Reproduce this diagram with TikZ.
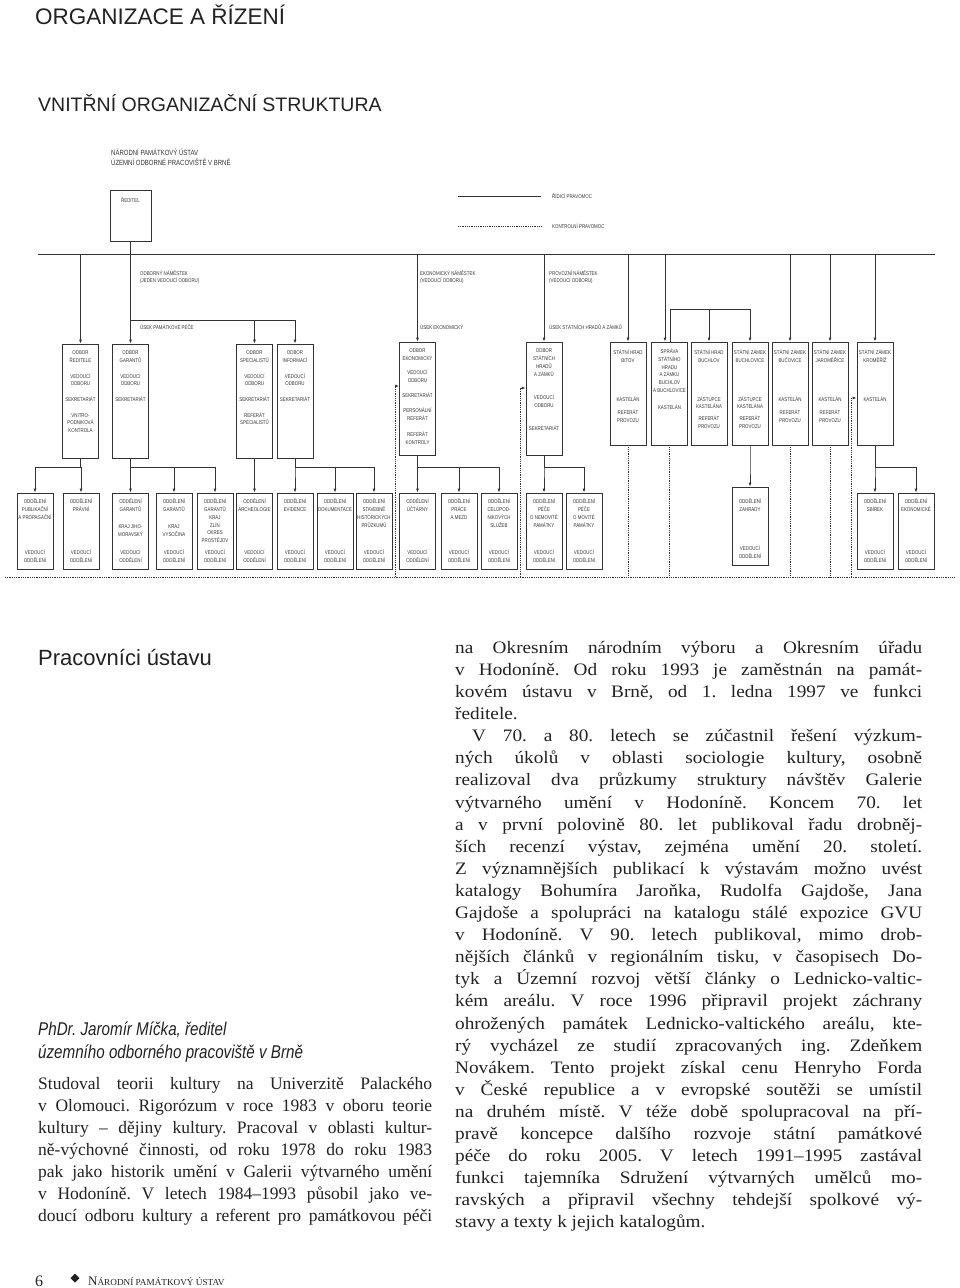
\documentclass[tikz,border=0pt]{standalone}
\usepackage{fontspec}
\setmainfont{Liberation Serif}
\setsansfont{Liberation Sans}
\newfontfamily\chartfont[FakeStretch=0.8]{Liberation Sans}
\newfontfamily\condfont[FakeStretch=0.82]{Liberation Sans}
\newfontfamily\widefont[FakeStretch=1.1]{Liberation Serif}
\usetikzlibrary{arrows.meta}
\definecolor{ink}{HTML}{333333}
\definecolor{textink}{HTML}{222222}
\newcommand\lcol[1]{\makebox[394pt][s]{#1}}
\newcommand\rcol[1]{\makebox[467pt][s]{#1}}
\frenchspacing

\begin{document}
\begin{tikzpicture}[
    x=1pt, y=-1pt,
    >={Latex[length=4pt,width=3pt]},
    chart/.style={font=\chartfont\fontsize{5.5}{7.8}\selectfont, text=ink, inner sep=0pt},
    tag/.style={chart, align=center},
    box/.style={draw=ink, line width=0.8pt, inner sep=0pt, minimum width=36pt},
    topbox/.style={box, minimum height=114pt},
    midbox/.style={box, minimum height=113pt},
    castle/.style={box, minimum height=103pt},
    dept/.style={box, minimum height=76pt,
                 label={[tag, anchor=south, yshift=7pt]south:{VEDOUCÍ\\ODDĚLENÍ}}},
    link/.style={draw=ink, line width=0.8pt},
    arr/.style={link, ->},
    ctrl/.style={draw=ink, line width=0.8pt, densely dotted},
    ctrlarr/.style={ctrl, ->},
    pagetitle/.style={font=\sffamily, text=textink, inner sep=0pt},
    bodytxt/.style={font=\fontsize{17.5}{22.1}\selectfont, text=textink,
                    align=left, inner sep=0pt},
    authortxt/.style={font=\condfont\itshape\fontsize{18.5}{23}\selectfont,
                      text=textink, align=left, inner sep=0pt},
]
\useasboundingbox (0,0) rectangle (960,1288);

% =====================================================================
% page headings
% =====================================================================
\node[pagetitle, font=\sffamily\fontsize{22.5}{27}\selectfont, anchor=base west]
    (head) at (35,24) {ORGANIZACE A ŘÍZENÍ};
\node[pagetitle, font=\sffamily\fontsize{19.5}{24}\selectfont, anchor=base west]
    (subhead) at (38,111) {VNITŘNÍ ORGANIZAČNÍ STRUKTURA};

% =====================================================================
% org chart
% =====================================================================
\coordinate (busL) at (38,254);
\coordinate (busR) at (935,254);
\coordinate (bus)  at (0,254);
\coordinate (spr)  at (0,309);
\coordinate (usek) at (0,320);
\coordinate (br)   at (0,467);
\coordinate (dotL) at (5,577);
\coordinate (dotR) at (955,577);

\node[chart, font=\chartfont\fontsize{7.5}{10}\selectfont, anchor=north west, align=left]
    (inst) at (111,149) {NÁRODNÍ PAMÁTKOVÝ ÚSTAV\\ÚZEMNÍ ODBORNÉ PRACOVIŠTĚ V BRNĚ};

\node[box, minimum width=41pt, minimum height=51pt,
      label={[tag, anchor=north, yshift=-8pt]north:ŘEDITEL}] (reditel) at (130.5,215.5) {};

% legend
\node[chart, anchor=west] (legRid) at (552,196) {ŘÍDICÍ PRAVOMOC};
\node[chart, anchor=west] (legKon) at (552,226) {KONTROLNÍ PRAVOMOC};
\draw[link] ([xshift=-94pt]legRid.west) -- ([xshift=-11pt]legRid.west);
\draw[ctrl] ([xshift=-94pt]legKon.west) -- ([xshift=-11pt]legKon.west);

% deputies
\node[chart, anchor=north west, align=left] (dep1) at (140,270)
    {ODBORNÝ NÁMĚSTEK\\(JEDEN VEDOUCÍ ODBORU)};
\node[chart, anchor=north west, align=left] (dep2) at (420,270)
    {EKONOMICKÝ NÁMĚSTEK\\(VEDOUCÍ ODBORU)};
\node[chart, anchor=north west, align=left] (dep3) at (549,270)
    {PROVOZNÍ NÁMĚSTEK\\(VEDOUCÍ ODBORU)};
\node[chart, anchor=west] (usek1) at (140,327) {ÚSEK PAMÁTKOVÉ PÉČE};
\node[chart, anchor=west] (usek2) at (420,327) {ÚSEK EKONOMICKÝ};
\node[chart, anchor=west] (usek3) at (549,327) {ÚSEK STÁTNÍCH HRADŮ A ZÁMKŮ};

% first row: odbory and castles
\node[topbox, label={[tag, anchor=north, yshift=-7pt]north:{ODBOR\\ŘEDITELE\\[7.8pt]VEDOUCÍ\\ODBORU\\[7.8pt]SEKRETARIÁT\\[7.8pt]VNITRO-\\PODNIKOVÁ\\KONTROLA}}]
    (odbRed) at (80.5,401) {};
\node[topbox, label={[tag, anchor=north, yshift=-7pt]north:{ODBOR\\GARANTŮ\\[7.8pt]VEDOUCÍ\\ODBORU\\[7.8pt]SEKRETARIÁT}}]
    (odbGar) at (130.5,401) {};
\node[topbox, label={[tag, anchor=north, yshift=-7pt]north:{ODBOR\\SPECIALISTŮ\\[7.8pt]VEDOUCÍ\\ODBORU\\[7.8pt]SEKRETARIÁT\\[7.8pt]REFERÁT\\SPECIALISTŮ}}]
    (odbSpec) at (254.5,401) {};
\node[topbox, label={[tag, anchor=north, yshift=-7pt]north:{ODBOR\\INFORMACÍ\\[7.8pt]VEDOUCÍ\\ODBORU\\[7.8pt]SEKRETARIÁT}}]
    (odbInf) at (295,401) {};
\node[midbox, label={[tag, anchor=north, yshift=-7pt]north:{ODBOR\\EKONOMICKÝ\\[6pt]VEDOUCÍ\\ODBORU\\[8pt]SEKRETARIÁT\\[7pt]PERSONÁLNÍ\\REFERÁT\\[8pt]REFERÁT\\KONTROLY}}]
    (odbEko) at (417.5,398.5) {};
\node[midbox, label={[tag, anchor=north, yshift=-7pt]north:{ODBOR\\STÁTNÍCH\\HRADŮ\\A ZÁMKŮ\\[16pt]VEDOUCÍ\\ODBORU\\[15pt]SEKRETARIÁT}}]
    (odbHrady) at (544,398.5) {};
\node[castle, label={[tag, anchor=north, yshift=-8pt]north:{STÁTNÍ HRAD\\BITOV\\[31pt]KASTELÁN\\[6pt]REFERÁT\\PROVOZU}}]
    (bitov) at (628,393.5) {};
\node[castle, label={[tag, anchor=north, yshift=-7pt]north:{SPRÁVA\\STÁTNÍHO\\HRADU\\A ZÁMKU\\BUCHLOV\\A BUCHLOVICE\\[9pt]KASTELÁN}}]
    (sprava) at (669.5,393.5) {};
\node[castle, label={[tag, anchor=north, yshift=-8pt]north:{STÁTNÍ HRAD\\BUCHLOV\\[31pt]ZÁSTUPCE\\KASTELÁNA\\[4pt]REFERÁT\\PROVOZU}}]
    (buchlov) at (709,393.5) {};
\node[castle, label={[tag, anchor=north, yshift=-8pt]north:{STÁTNÍ ZÁMEK\\BUCHLOVICE\\[31pt]ZÁSTUPCE\\KASTELÁNA\\[4pt]REFERÁT\\PROVOZU}}]
    (buchlovice) at (750,393.5) {};
\node[castle, label={[tag, anchor=north, yshift=-8pt]north:{STÁTNÍ ZÁMEK\\BUČOVICE\\[31pt]KASTELÁN\\[6pt]REFERÁT\\PROVOZU}}]
    (bucovice) at (790,393.5) {};
\node[castle, label={[tag, anchor=north, yshift=-8pt]north:{STÁTNÍ ZÁMEK\\JAROMĚŘICE\\[31pt]KASTELÁN\\[6pt]REFERÁT\\PROVOZU}}]
    (jaromerice) at (830,393.5) {};
\node[castle, label={[tag, anchor=north, yshift=-8pt]north:{STÁTNÍ ZÁMEK\\KROMĚŘÍŽ\\[31pt]KASTELÁN}}]
    (kromeriz) at (875,393.5) {};

% second row: oddeleni
\foreach \nm/\x/\txt in {
    oPubl/35/{ODDĚLENÍ\\PUBLIKAČNÍ\\A PROPAGAČNÍ},
    oPrav/81/{ODDĚLENÍ\\PRÁVNÍ},
    oGarJm/130.5/{ODDĚLENÍ\\GARANTŮ\\[9pt]KRAJ JIHO-\\MORAVSKÝ},
    oGarVys/174/{ODDĚLENÍ\\GARANTŮ\\[9pt]KRAJ\\VYSOČINA},
    oGarZlin/215/{ODDĚLENÍ\\GARANTŮ\\KRAJ\\ZLÍN\\OKRES\\PROSTĚJOV},
    oArch/254.5/{ODDĚLENÍ\\ARCHEOLOGIE},
    oEvid/295/{ODDĚLENÍ\\EVIDENCE},
    oDok/335/{ODDĚLENÍ\\DOKUMENTACE},
    oStav/374/{ODDĚLENÍ\\STAVEBNĚ\\HISTORICKÝCH\\PRŮZKUMŮ},
    oUct/417.5/{ODDĚLENÍ\\ÚČTÁRNY},
    oMzdy/459/{ODDĚLENÍ\\PRÁCE\\A MEZD},
    oSluz/499/{ODDĚLENÍ\\CELOPOD-\\NIKOVÝCH\\SLUŽEB},
    oNemov/544/{ODDĚLENÍ\\PÉČE\\O NEMOVITÉ\\PAMÁTKY},
    oMov/584/{ODDĚLENÍ\\PÉČE\\O MOVITÉ\\PAMÁTKY},
    oSbir/875/{ODDĚLENÍ\\SBÍREK},
    oEkon/916/{ODDĚLENÍ\\EKONOMICKÉ}} {
    \node[dept, label={[tag, anchor=north, yshift=-6pt]north:{\txt}}] (\nm) at (\x,531) {};
}
\node[dept, minimum height=78pt,
      label={[tag, anchor=north, yshift=-12pt]north:{ODDĚLENÍ\\ZAHRADY}}] (oZahr) at (750,526) {};

% line of command
\draw[link, line width=1pt] (busL) -- (busR);
\draw[arr] (reditel.south) -- (odbGar.north);
\draw[arr] (reditel.south |- usek) -| (odbSpec.north);
\draw[arr] (reditel.south |- usek) -| (odbInf.north);
\foreach \t in {odbRed, odbEko, odbHrady, bitov, bucovice, jaromerice, kromeriz}
    \draw[arr] (\t.north |- bus) -- (\t.north);
\draw[arr] ([xshift=-4.5pt]sprava.north |- bus) -- ([xshift=-4.5pt]sprava.north);
\draw[arr] ([xshift=1pt]sprava.north) |- (buchlovice.north |- spr) -- (buchlovice.north);
\draw[arr] (buchlov.north |- spr) -- (buchlov.north);

\foreach \p/\c in {odbRed/oPubl, odbRed/oPrav, odbGar/oGarJm, odbGar/oGarVys,
                   odbGar/oGarZlin, odbSpec/oArch, odbInf/oEvid, odbInf/oDok,
                   odbInf/oStav, odbEko/oUct, odbEko/oMzdy, odbEko/oSluz,
                   odbHrady/oNemov, odbHrady/oMov, buchlovice/oZahr,
                   kromeriz/oSbir, kromeriz/oEkon}
    \draw[arr] (\p.south) -- (\p.south |- br) -| (\c.north);

% line of control (dotted)
\draw[ctrl] (dotL) -- (dotR);
\draw[ctrlarr] ([xshift=-4pt]odbEko.west |- dotL) |- ([yshift=12.5pt]odbEko.west);
\draw[ctrlarr] ([xshift=-5pt]odbHrady.west |- dotL) |- ([yshift=10.5pt]odbHrady.west);
\draw[ctrlarr] ([xshift=-5pt]kromeriz.west |- dotL) |- ([yshift=-4.5pt]kromeriz.west);
\foreach \t in {bitov, sprava, bucovice, jaromerice}
    \draw[ctrl] (\t.south) -- (\t.south |- dotL);

% =====================================================================
% text below the chart
% =====================================================================
\node[pagetitle, font=\sffamily\fontsize{22}{26}\selectfont, anchor=base west]
    (staff) at (38,665) {Pracovníci ústavu};

\node[authortxt, anchor=north west] (author) at (38,1022)
    {PhDr. Jaromír Míčka, ředitel\\územního odborného pracoviště v Brně};

\node[bodytxt, anchor=north west] (bioL) at (38,1077) {%
\lcol{Studoval teorii kultury na Univerzitě Palackého}\\
\lcol{v Olomouci. Rigorózum v roce 1983 v oboru teorie}\\
\lcol{kultury – dějiny kultury. Pracoval v oblasti kultur-}\\
\lcol{ně-výchovné činnosti, od roku 1978 do roku 1983}\\
\lcol{pak jako historik umění v Galerii výtvarného umění}\\
\lcol{v Hodoníně. V letech 1984–1993 působil jako ve-}\\
\lcol{doucí odboru kultury a referent pro památkovou péči}};

\node[bodytxt, font=\widefont\fontsize{17.5}{22.1}\selectfont, anchor=north west]
    (bioR) at (455,641) {%
\rcol{na Okresním národním výboru a Okresním úřadu}\\
\rcol{v Hodoníně. Od roku 1993 je zaměstnán na památ-}\\
\rcol{kovém ústavu v Brně, od 1. ledna 1997 ve funkci}\\
ředitele.\\
\hspace*{17pt}\makebox[450pt][s]{V 70. a 80. letech se zúčastnil řešení výzkum-}\\
\rcol{ných úkolů v oblasti sociologie kultury, osobně}\\
\rcol{realizoval dva průzkumy struktury návštěv Galerie}\\
\rcol{výtvarného umění v Hodoníně. Koncem 70. let}\\
\rcol{a v první polovině 80. let publikoval řadu drobněj-}\\
\rcol{ších recenzí výstav, zejména umění 20. století.}\\
\rcol{Z významnějších publikací k výstavám možno uvést}\\
\rcol{katalogy Bohumíra Jaroňka, Rudolfa Gajdoše, Jana}\\
\rcol{Gajdoše a spolupráci na katalogu stálé expozice GVU}\\
\rcol{v Hodoníně. V 90. letech publikoval, mimo drob-}\\
\rcol{nějších článků v regionálním tisku, v časopisech Do-}\\
\rcol{tyk a Územní rozvoj větší články o Lednicko-valtic-}\\
\rcol{kém areálu. V roce 1996 připravil projekt záchrany}\\
\rcol{ohrožených památek Lednicko-valtického areálu, kte-}\\
\rcol{rý vycházel ze studií zpracovaných ing. Zdeňkem}\\
\rcol{Novákem. Tento projekt získal cenu Henryho Forda}\\
\rcol{v České republice a v evropské soutěži se umístil}\\
\rcol{na druhém místě. V téže době spolupracoval na pří-}\\
\rcol{pravě koncepce dalšího rozvoje státní památkové}\\
\rcol{péče do roku 2005. V letech 1991–1995 zastával}\\
\rcol{funkci tajemníka Sdružení výtvarných umělců mo-}\\
\rcol{ravských a připravil všechny tehdejší spolkové vý-}\\
stavy a texty k jejich katalogům.};

% footer
\node[anchor=base west, inner sep=0pt, text=textink, font=\fontsize{16}{16}\selectfont]
    (pageno) at (35,1286) {6};
\fill[textink] (75,1273.5) -- (79.5,1278) -- (75,1282.5) -- (70.5,1278) -- cycle;
\node[anchor=base west, inner sep=0pt, text=textink] (journal) at (88,1285)
    {\fontsize{13}{13}\selectfont N\fontsize{9.2}{10}\selectfont ÁRODNÍ PAMÁTKOVÝ ÚSTAV};

\end{tikzpicture}
\end{document}
